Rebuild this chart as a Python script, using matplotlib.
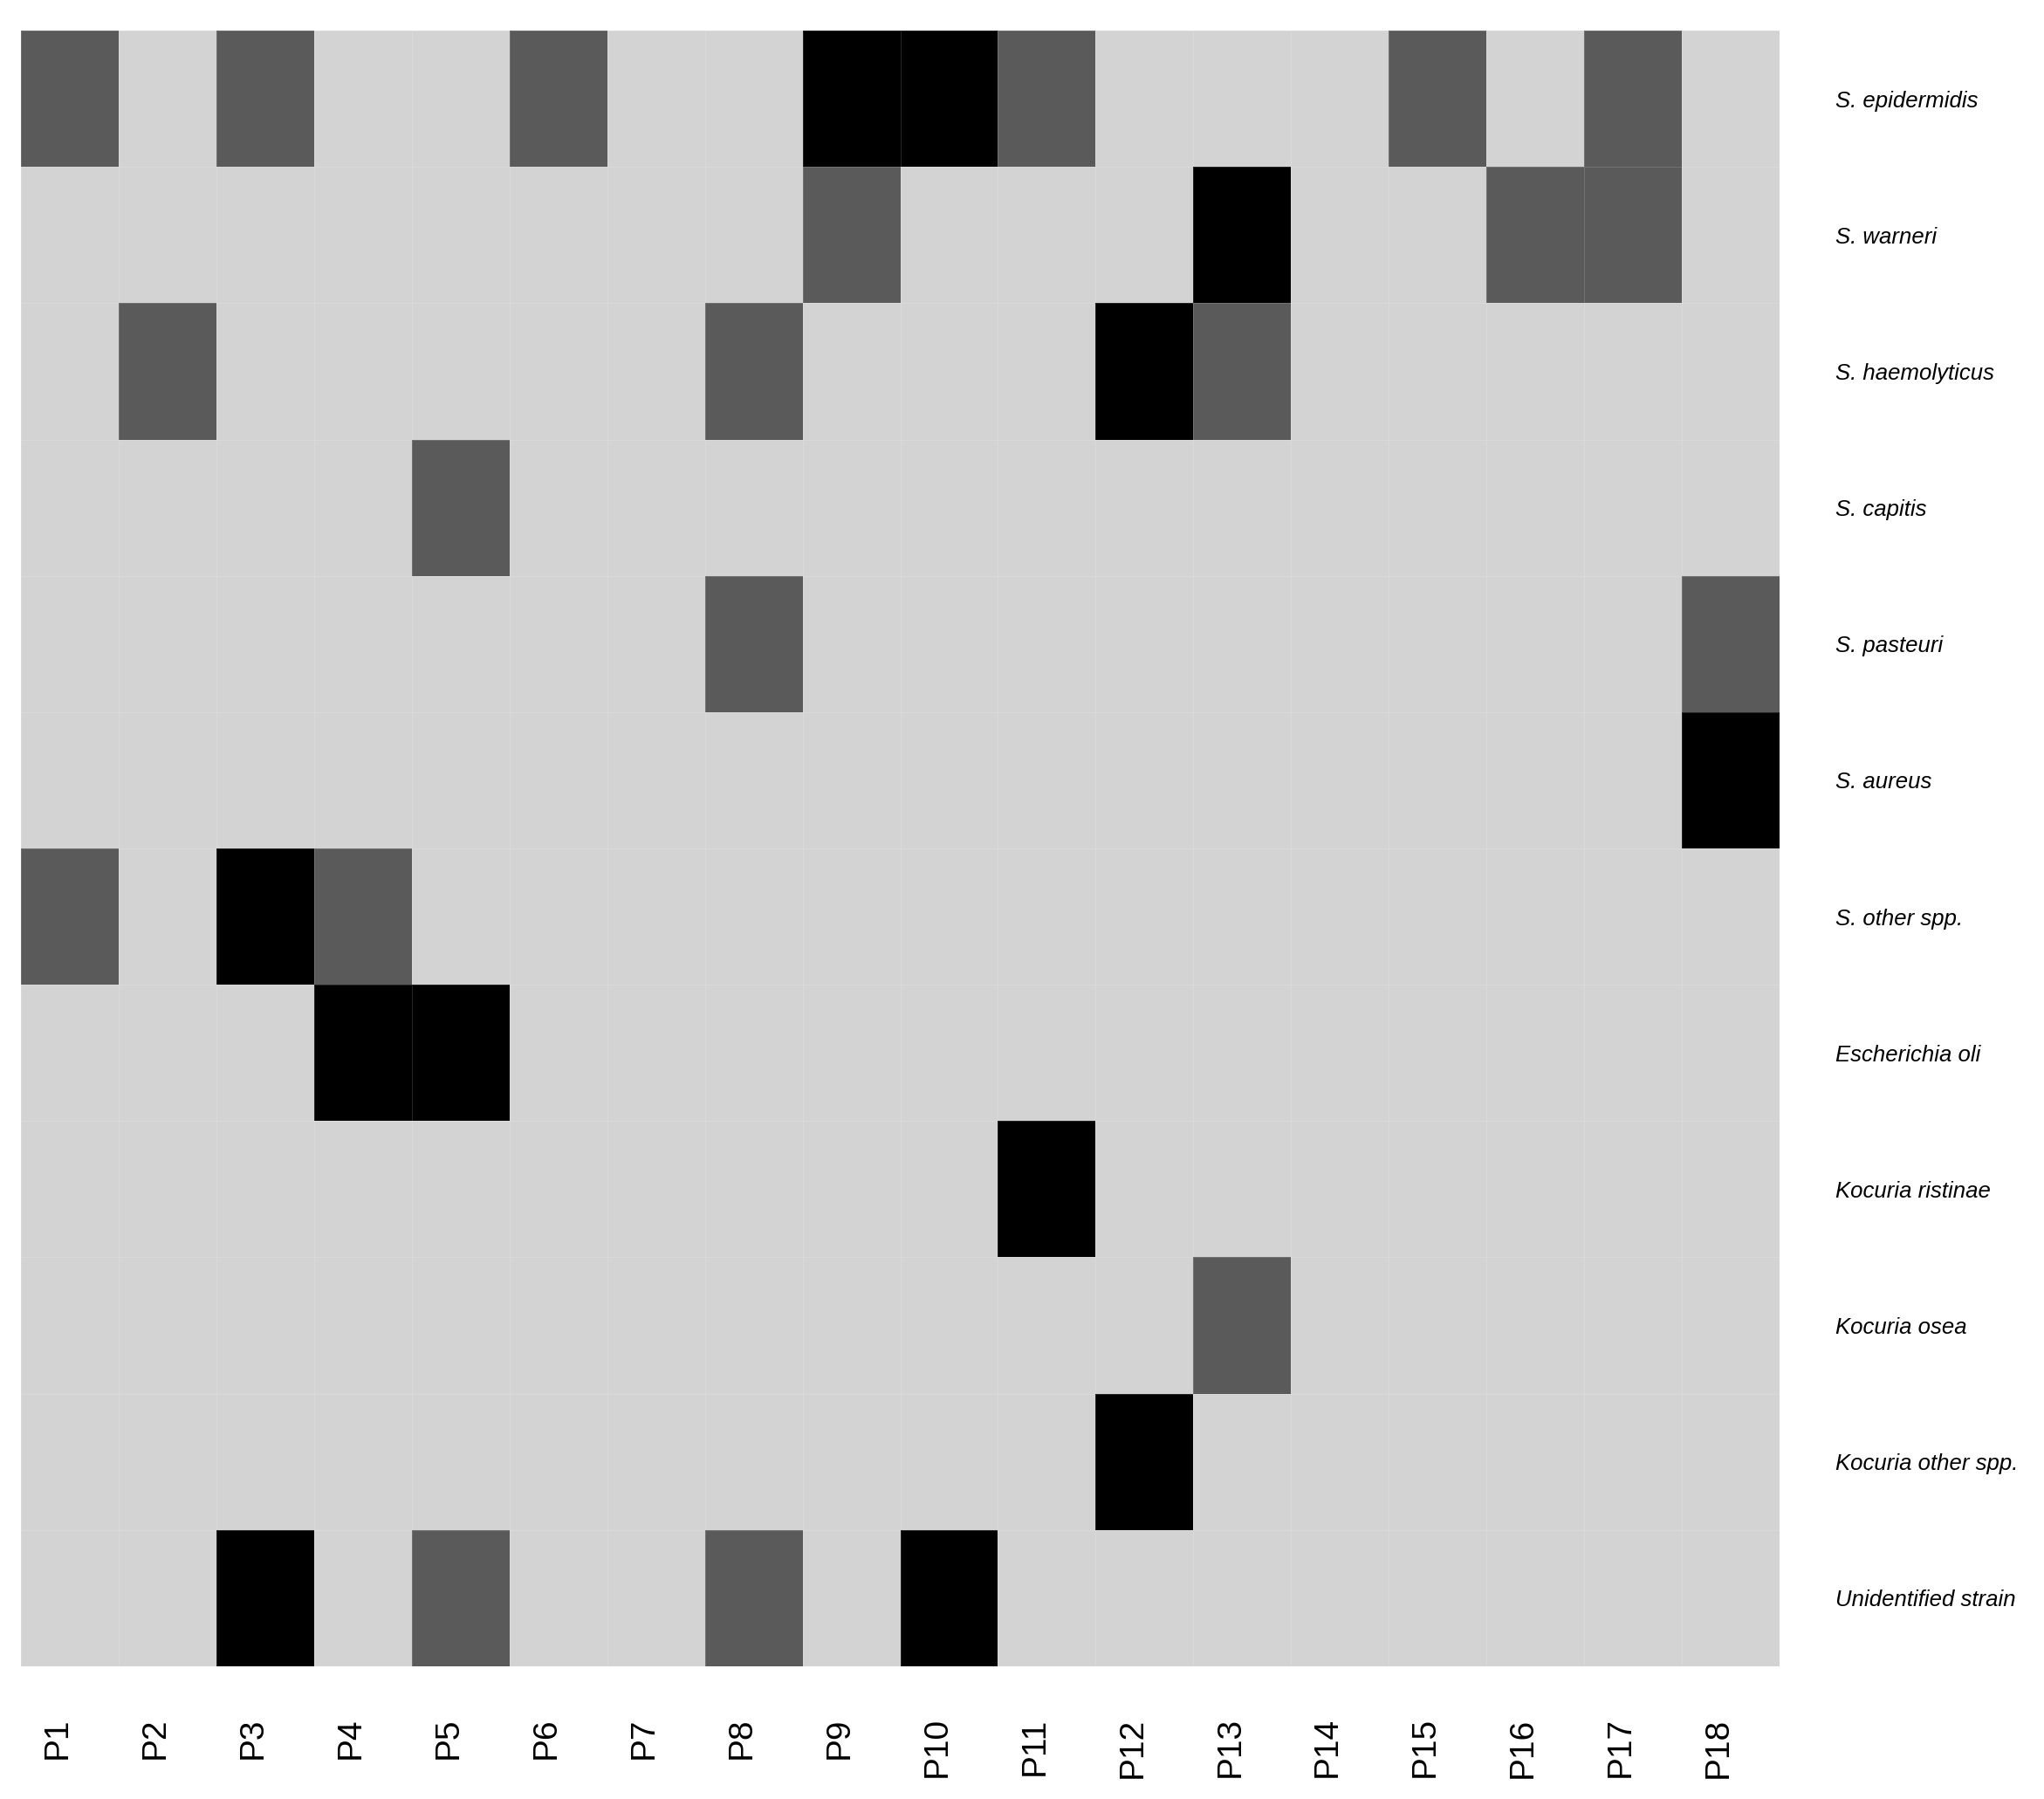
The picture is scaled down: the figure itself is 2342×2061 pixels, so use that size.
import matplotlib.pyplot as plt
from matplotlib.colors import ListedColormap, BoundaryNorm
from matplotlib.transforms import ScaledTranslation
import numpy as np

plt.rcParams['font.family'] = ['Liberation Sans', 'DejaVu Sans']

patients = ['P' + str(i) for i in range(1, 19)]
species = ['S. epidermidis', 'S. warneri', 'S. haemolyticus', 'S. capitis',
           'S. pasteuri', 'S. aureus', 'S. other spp.', 'Escherichia oli',
           'Kocuria ristinae', 'Kocuria osea', 'Kocuria other spp.',
           'Unidentified strain']

# 0 = absent, 1 = present, 2 = dominant
#          P1 P2 P3 P4 P5 P6 P7 P8 P9 P10 P11 P12 P13 P14 P15 P16 P17 P18
epidermidis  = [1, 0, 1, 0, 0, 1, 0, 0, 2, 2, 1, 0, 0, 0, 1, 0, 1, 0]
warneri      = [0, 0, 0, 0, 0, 0, 0, 0, 1, 0, 0, 0, 2, 0, 0, 1, 1, 0]
haemolyticus = [0, 1, 0, 0, 0, 0, 0, 1, 0, 0, 0, 2, 1, 0, 0, 0, 0, 0]
capitis      = [0, 0, 0, 0, 1, 0, 0, 0, 0, 0, 0, 0, 0, 0, 0, 0, 0, 0]
pasteuri     = [0, 0, 0, 0, 0, 0, 0, 1, 0, 0, 0, 0, 0, 0, 0, 0, 0, 1]
aureus       = [0, 0, 0, 0, 0, 0, 0, 0, 0, 0, 0, 0, 0, 0, 0, 0, 0, 2]
s_other      = [1, 0, 2, 1, 0, 0, 0, 0, 0, 0, 0, 0, 0, 0, 0, 0, 0, 0]
e_coli       = [0, 0, 0, 2, 2, 0, 0, 0, 0, 0, 0, 0, 0, 0, 0, 0, 0, 0]
k_ristinae   = [0, 0, 0, 0, 0, 0, 0, 0, 0, 0, 2, 0, 0, 0, 0, 0, 0, 0]
k_osea       = [0, 0, 0, 0, 0, 0, 0, 0, 0, 0, 0, 0, 1, 0, 0, 0, 0, 0]
k_other      = [0, 0, 0, 0, 0, 0, 0, 0, 0, 0, 0, 2, 0, 0, 0, 0, 0, 0]
unidentified = [0, 0, 2, 0, 1, 0, 0, 1, 0, 2, 0, 0, 0, 0, 0, 0, 0, 0]

mat = np.array([epidermidis, warneri, haemolyticus, capitis, pasteuri, aureus,
                s_other, e_coli, k_ristinae, k_osea, k_other, unidentified])

cmap = ListedColormap(['#d3d3d3', '#5a5a5a', '#000000'])
norm = BoundaryNorm([-0.5, 0.5, 1.5, 2.5], cmap.N)

fig = plt.figure(figsize=(23.42, 20.61), dpi=100)
ax = fig.add_axes([24 / 2342, 1 - 1909 / 2061, (2039 - 24) / 2342, (1909 - 35) / 2061])
ax.pcolormesh(mat, cmap=cmap, norm=norm, edgecolors=(1, 1, 1, 0.15), linewidth=0.6)
ax.set_xlim(0, len(patients))
ax.set_ylim(len(species), 0)

ax.set_xticks(np.arange(len(patients)) + 0.5)
ax.set_xticklabels(patients, rotation=90, ha='center', va='top', fontsize=28)
ax.set_yticks(np.arange(len(species)) + 0.5)
ax.set_yticklabels(species, fontsize=18.5, style='italic', ha='left')
ax.yaxis.tick_right()
ax.tick_params(axis='x', length=0, pad=42)
ax.tick_params(axis='y', length=0, pad=46)
for s in ax.spines.values():
    s.set_visible(False)

# x labels sit a bit left of the cell centres
shift = ScaledTranslation(-0.14, 0, fig.dpi_scale_trans)
for lab in ax.get_xticklabels():
    lab.set_transform(lab.get_transform() + shift)

fig.savefig('out.png', dpi=100)
